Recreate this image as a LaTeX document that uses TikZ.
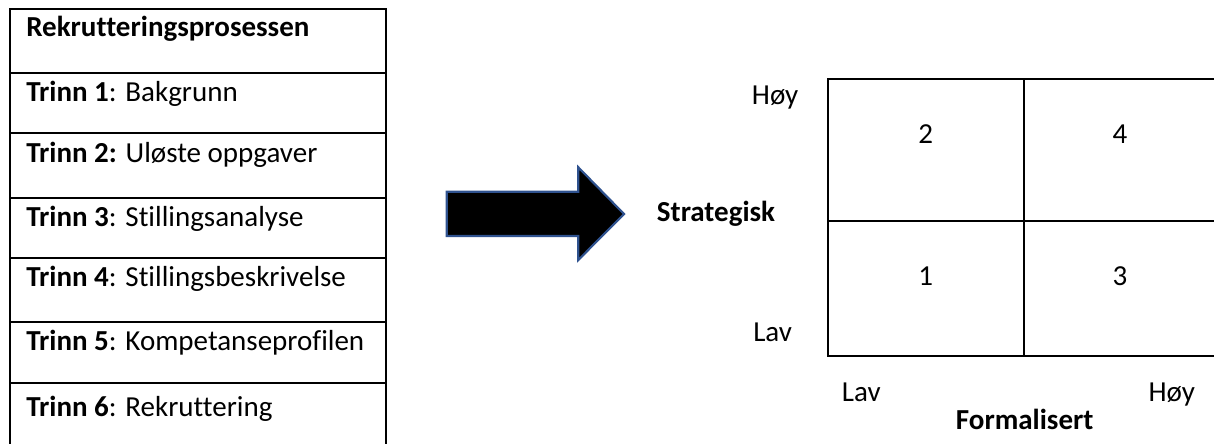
\documentclass[tikz,border=0pt]{standalone}
\usepackage{fontspec}
\setmainfont{Carlito}[Ligatures=NoCommon]
\definecolor{arrowblue}{HTML}{2F528F}
\begin{document}
\begin{tikzpicture}[x=0.75pt,y=-0.75pt,
  txt/.style={inner sep=0pt,font=\fontsize{21.75}{26}\selectfont},
  rowtxt/.style={txt,anchor=base west},
  ctxt/.style={txt,anchor=base},
  gridline/.style={line width=1.5pt,black},
  bigarrow/.style={fill=black,draw=arrowblue,line width=1.6pt,line join=miter}]
\useasboundingbox (0,0) rectangle (1214,443);
\clip (0,0) rectangle (1214,443);
% table
\draw[gridline] (10,460) -- (10,9) -- (386,9) -- (386,460);
\foreach \yy in {73,133,198,258,322,383}{\draw[gridline] (10,\yy) -- (386,\yy);}
\node[rowtxt] (h) at (26,36.7) {\textbf{Rekrutteringsprosessen}};
\node[rowtxt] (t1) at (26,101.7) {\textbf{Trinn 1}: Bakgrunn};
\node[rowtxt] (t2) at (26,162.3) {\textbf{Trinn 2:} Uløste oppgaver};
\node[rowtxt] (t3) at (26,226.7) {\textbf{Trinn 3}: Stillingsanalyse};
\node[rowtxt] (t4) at (26,286.7) {\textbf{Trinn 4}: Stillingsbeskrivelse};
\node[rowtxt] (t5) at (26,350.7) {\textbf{Trinn 5}: Kompetanseprofilen};
\node[rowtxt] (t6) at (26,416.7) {\textbf{Trinn 6}: Rekruttering};
% arrow
\draw[bigarrow] (446.7,191.7) -- (578.3,191.7) -- (578.3,167.3) -- (624,214)
  -- (578.3,260) -- (578.3,236) -- (446.7,236) -- cycle;
% matrix
\draw[gridline] (1225,79) -- (827.7,79) -- (827.7,355.7) -- (1225,355.7);
\draw[gridline] (827.7,221) -- (1225,221);
\draw[gridline] (1024,79) -- (1024,355.7);
\node[ctxt] (q2) at (925.7,143.3) {2};
\node[ctxt] (q4) at (1120,143.3) {4};
\node[ctxt] (q1) at (925.7,285) {1};
\node[ctxt] (q3) at (1120,285) {3};
% axis labels
\node[rowtxt] (yh) at (751.7,104) {Høy};
\node[rowtxt] (ys) at (656.7,221.7) {\textbf{Strategisk}};
\node[rowtxt] (yl) at (753,341.7) {Lav};
\node[rowtxt] (xl) at (841.7,401.7) {Lav};
\node[rowtxt] (xh) at (1148.3,401.7) {Høy};
\node[ctxt] (xf) at (1024.7,429.3) {\textbf{Formalisert}};
\end{tikzpicture}
\end{document}
